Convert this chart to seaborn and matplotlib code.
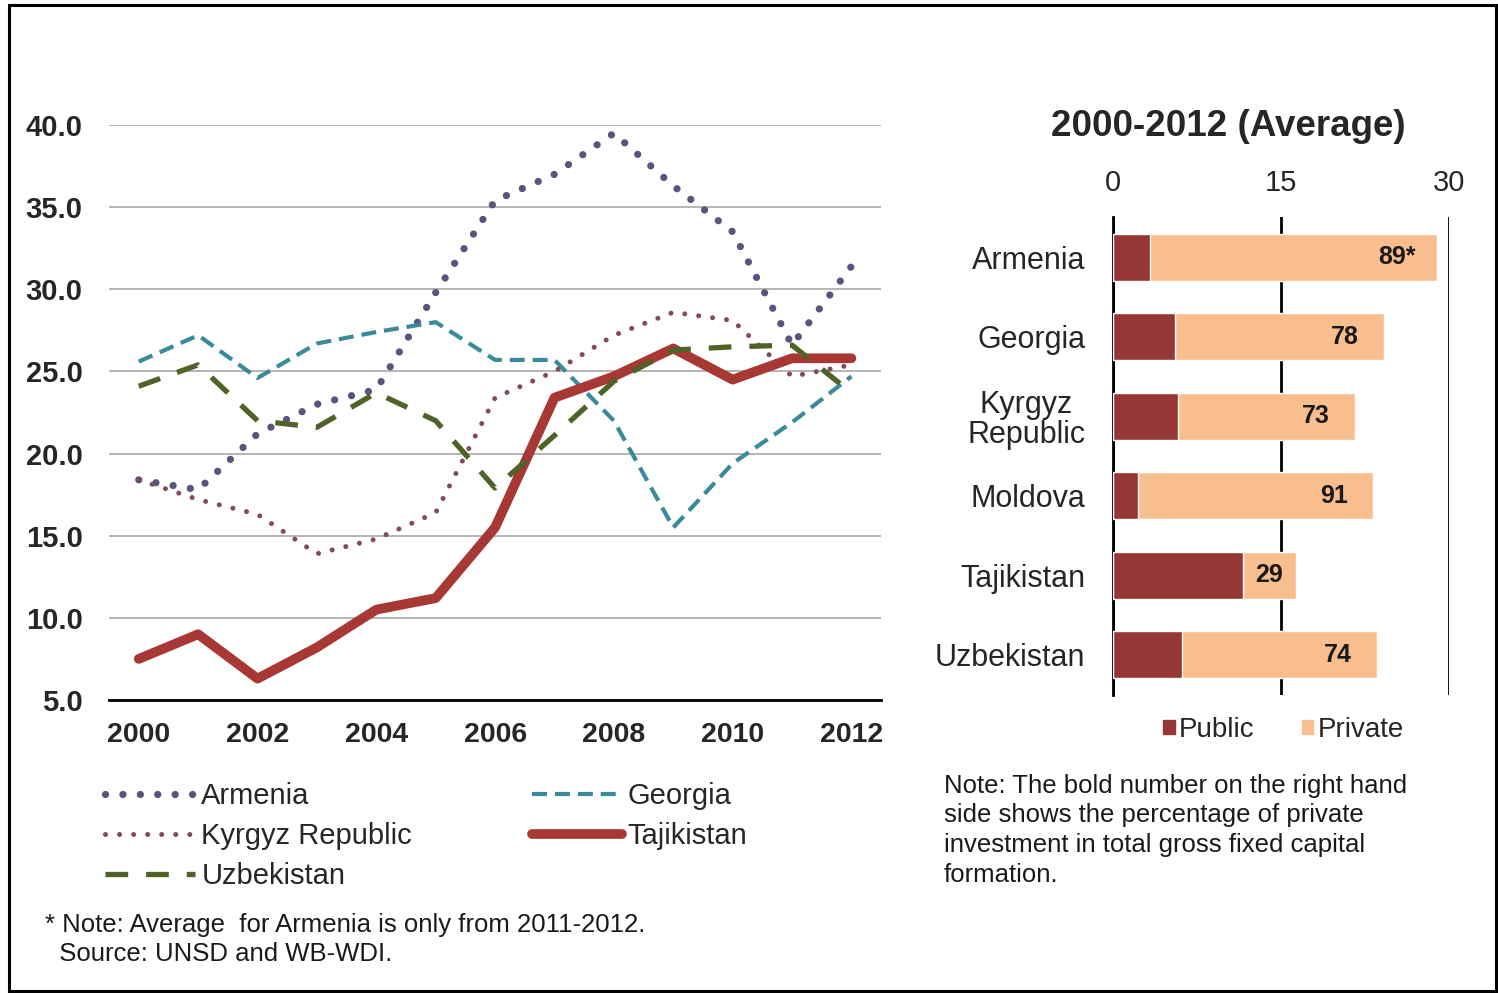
import matplotlib
matplotlib.use('Agg')
import matplotlib.pyplot as plt
from matplotlib.patches import Patch, Rectangle
from matplotlib.ticker import FixedLocator
import seaborn as sns
import pandas as pd

# --- data: investment (% of GDP) ---
years = [2000, 2001, 2002, 2003, 2004, 2005, 2006, 2007, 2008, 2009, 2010, 2011, 2012]
armenia = [18.4, 17.8, 21.2, 23.0, 23.9, 29.8, 35.4, 37.0, 39.5, 36.3, 33.5, 26.6, 31.4]
georgia = [25.6, 27.2, 24.6, 26.7, 27.4, 28.0, 25.7, 25.7, 22.0, 15.5, 19.4, 21.9, 24.7]
kyrgyz = [18.4, 17.2, 16.3, 13.9, 14.8, 16.4, 23.4, 25.0, 27.2, 28.6, 28.1, 24.7, 25.4]
tajikistan = [7.5, 9.0, 6.3, 8.2, 10.5, 11.2, 15.5, 23.4, 24.7, 26.4, 24.5, 25.8, 25.8]
uzbekistan = [24.1, 25.4, 22.0, 21.6, 23.7, 22.0, 17.9, 21.1, 24.4, 26.3, 26.5, 26.6, 23.7]

# --- data: 2000-2012 average, public / private ---
countries = ['Armenia', 'Georgia', 'Kyrgyz\nRepublic', 'Moldova', 'Tajikistan', 'Uzbekistan']
public = [3.3, 5.5, 5.8, 2.2, 11.6, 6.2]
private = [25.6, 18.7, 15.8, 21.0, 4.7, 17.4]
share_labels = ['89*', '78', '73', '91', '29', '74']

sns.set_style('white')
plt.rcParams['font.family'] = ['Liberation Sans', 'DejaVu Sans']

fig = plt.figure(figsize=(14.98, 9.93), dpi=100)

# ---------------- line chart ----------------
ax = fig.add_axes([0.0728, 0.2951, 0.5154, 0.5790])

series = [
    ('Armenia', armenia, dict(color='#57547f', lw=5.2, linestyle=(0, (0.01, 2.4)), dash_capstyle='round')),
    ('Georgia', georgia, dict(color='#3a8a9c', lw=3.0, linestyle=(0, (3.6, 1.9)))),
    ('Kyrgyz Republic', kyrgyz, dict(color='#84495e', lw=3.6, linestyle=(0, (0.01, 2.8)), dash_capstyle='round')),
    ('Tajikistan', tajikistan, dict(color='#a83834', lw=7.0, solid_capstyle='round', solid_joinstyle='round')),
    ('Uzbekistan', uzbekistan, dict(color='#4f6228', lw=3.8, linestyle=(0, (4.3, 3.4)))),
]
for name, vals, kw in series:
    sns.lineplot(x=years, y=vals, ax=ax, label=name, **kw)

ax.set_xlim(1999.5, 2012.5)
ax.set_ylim(5, 40)
ax.set_yticks([5, 10, 15, 20, 25, 30, 35, 40])
ax.set_yticklabels([f'{v:.1f}' for v in range(5, 41, 5)], fontsize=21, fontweight='bold')
ax.set_xticks(years[::2])
ax.set_xticklabels([str(y) for y in years[::2]], fontsize=20.5, fontweight='bold')
ax.xaxis.set_minor_locator(FixedLocator([y - 0.5 for y in years] + [2012.5]))
ax.tick_params(axis='x', which='major', length=0, pad=16)
ax.tick_params(axis='x', which='minor', length=5, width=2, color='black', direction='out')
ax.tick_params(axis='y', length=0, pad=19)
ax.set_xlabel('')
ax.set_ylabel('')
ax.grid(axis='y', color='#b4b4b4', lw=1.4)
ax.set_axisbelow(True)
for s in ['top', 'right', 'left']:
    ax.spines[s].set_visible(False)
ax.spines['bottom'].set_color('black')
ax.spines['bottom'].set_linewidth(2)
ax.spines['bottom'].set_zorder(5)

handles, labels = ax.get_legend_handles_labels()
ax.get_legend().remove()
order = [0, 2, 4, 1, 3]
fig.legend([handles[i] for i in order], [labels[i] for i in order],
           loc='upper left', bbox_to_anchor=(0.0701, 0.2125), ncol=2,
           frameon=False, fontsize=21, handlelength=3.1, handletextpad=0.2,
           columnspacing=4.1, labelspacing=0.42, borderpad=0, borderaxespad=0)

# ---------------- stacked bars ----------------
bx = fig.add_axes([0.743, 0.3006, 0.2243, 0.4804])
total = [p + q for p, q in zip(public, private)]
sns.barplot(x=total, y=countries, ax=bx, color='#f9be8e', orient='h', width=0.59,
            saturation=1, zorder=2)
sns.barplot(x=public, y=countries, ax=bx, color='#953735', orient='h', width=0.59,
            saturation=1, zorder=3)
for i, (t, q, lab) in enumerate(zip(total, private, share_labels)):
    bx.text(t - min(3.5, q / 2), i, lab, ha='center', va='center', fontsize=18,
            fontweight='bold', color='#1a1a1a', zorder=4)

bx.set_xlim(0, 30)
bx.set_ylim(5.5, -0.5)
bx.set_xticks([0, 15, 30])
bx.xaxis.tick_top()
bx.tick_params(axis='x', length=0, pad=15, labelsize=21)
bx.tick_params(axis='y', length=0, pad=20, labelsize=22)
for t in bx.get_yticklabels():
    t.set_multialignment('center')
    t.set_linespacing(1.0)
bx.set_xlabel('')
bx.set_ylabel('')
bx.grid(axis='x', color='black', lw=2)
bx.grid(axis='y', visible=False)
bx.set_axisbelow(True)
for s in ['top', 'right', 'bottom']:
    bx.spines[s].set_visible(False)
bx.spines['left'].set_color('black')
bx.spines['left'].set_linewidth(2)

fig.text(0.8198, 0.873, '2000-2012 (Average)', ha='center', va='center',
         fontsize=26.5, fontweight='bold')

fig.legend([Patch(color='#953735'), Patch(color='#f9be8e')], ['Public', 'Private'],
           loc='upper left', bbox_to_anchor=(0.7764, 0.278), ncol=2, frameon=False,
           fontsize=20, handlelength=0.42, handleheight=0.42, handletextpad=0.15,
           columnspacing=1.7, borderpad=0, borderaxespad=0)

fig.text(0.630, 0.164, 'Note: The bold number on the right hand\nside shows the percentage of private\n'
         'investment in total gross fixed capital\nformation.',
         ha='left', va='center', fontsize=18.5, linespacing=1.3, color='#1a1a1a')

fig.text(0.030, 0.054, '* Note: Average  for Armenia is only from 2011-2012.\n  Source: UNSD and WB-WDI.',
         ha='left', va='center', fontsize=18.5, linespacing=1.3, color='#1a1a1a')

fig.patches.append(Rectangle((0.0057, 0.002), 0.993, 0.9925, transform=fig.transFigure,
                             fill=False, edgecolor='black', lw=2.2))

fig.savefig('out.png', dpi=100)
